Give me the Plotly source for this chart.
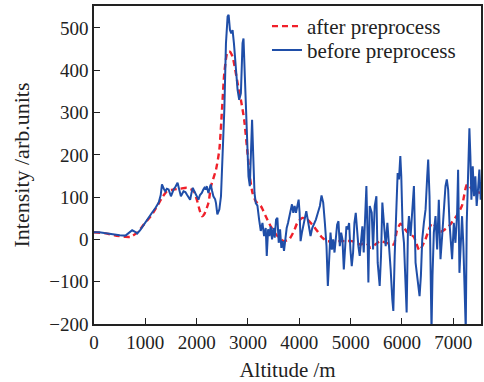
import plotly.graph_objects as go

# Altitude (m) and intensity (arb. units)
before_x = [0, 100, 200, 300, 400, 500, 614, 680, 743, 800, 840, 900, 969, 1050, 1130, 1200, 1260, 1300,
            1324, 1360, 1389, 1420, 1453, 1499, 1550, 1590, 1628, 1660, 1693, 1744, 1780, 1809, 1840, 1873,
            1900, 1925, 1950, 1970, 2000, 2035, 2065, 2100, 2130, 2151, 2175, 2196, 2229, 2250, 2274, 2300,
            2326, 2360, 2377, 2403, 2420, 2442, 2474, 2500, 2539, 2571, 2603, 2623, 2649, 2674, 2700, 2726,
            2765, 2797, 2829, 2862, 2894, 2913, 2939, 2971, 3010, 3036, 3060, 3080, 3101, 3127, 3152,
            3184, 3217, 3249, 3282, 3314, 3346, 3366, 3392, 3417, 3443, 3469, 3495, 3521, 3547, 3573, 3599,
            3625, 3650, 3676, 3702, 3728, 3754, 3780, 3806, 3831, 3857, 3883, 3909, 3935, 3961, 3987, 4006,
            4025, 4051, 4077, 4103, 4136, 4168, 4194, 4219, 4252, 4284, 4323, 4362, 4401, 4433, 4466, 4498,
            4530, 4556, 4582, 4608, 4634, 4660, 4686, 4711, 4737, 4763, 4789, 4815, 4841, 4867, 4893, 4918,
            4944, 4970, 4996, 5022, 5048, 5074, 5100, 5126, 5151, 5177, 5203, 5229, 5255, 5287, 5307,
            5327, 5346, 5372, 5411, 5437, 5469, 5502, 5527, 5566, 5592, 5618, 5651, 5683, 5716, 5748,
            5780, 5812, 5832, 5858, 5890, 5916, 5942, 5968, 5987, 6013, 6039, 6071, 6091, 6117, 6136, 6168,
            6201, 6233, 6265, 6304, 6343, 6369, 6395, 6427, 6460, 6492, 6511, 6537, 6563, 6576, 6595, 6621,
            6654, 6686, 6718, 6751, 6783, 6816, 6848, 6874, 6900, 6926, 6952, 6977, 7010, 7042, 7075, 7094,
            7120, 7146, 7171, 7197, 7223, 7243, 7262, 7288, 7314, 7333, 7353, 7379, 7404, 7430, 7456, 7482,
            7508, 7534, 7560]
before_y = [17, 17, 15, 13, 11, 10, 9, 15, 22, 18, 14, 22, 35, 48, 63, 75, 87, 105,
            130, 120, 114, 120, 118, 102, 118, 125, 134, 118, 102, 114, 112, 106, 100, 94,
            110, 122, 115, 110, 100, 94, 105, 110, 118, 122, 118, 126, 110, 120, 130, 115,
            102, 95, 86, 59, 65, 71, 102, 180, 307, 464, 527, 531, 495, 487, 495, 464,
            401, 354, 330, 346, 464, 475, 385, 267, 149, 126, 200, 283, 204, 110, 86,
            80, 47, 20, 39, 8, 27, -39, 24, 8, 31, 0, 27, 4, 47, 51, -8,
            24, -20, -4, -27, 4, 27, 39, 55, 71, 83, 63, 79, 63, 75, 94, 63,
            -4, 16, 35, 47, 67, 47, 27, 8, 27, 35, 47, 63, 79, 104, 87, 39,
            -16, -110, -39, 16, -24, 0, -31, 8, 35, 43, -16, 16, 0, -71, -16, 31,
            24, 39, -24, -63, -31, 39, 63, 8, -16, -39, -8, 31, -31, 102, 126,
            24, -102, 79, 63, -24, 79, 102, -55, -110, -39, 87, 24, -16, 39, -8,
            -71, -142, -169, -39, 94, 157, 142, 197, 149, 24, -8, -134, -173, 24, 55, 8,
            63, 126, -55, -102, -134, -86, 0, 39, 71, 149, 189, 102, -118, -215, -86, 16,
            55, -24, 94, -47, 8, 71, 126, 142, 118, 39, 0, -47, 39, -8, 63, 165,
            -79, -24, 55, -16, -118, -215, 39, 134, 263, 197, 94, 173, 102, 149, 79, 118,
            165, 94, 142]

after_x = [0, 200, 400, 614, 711, 840, 969, 1130, 1227, 1324, 1421, 1550, 1680, 1809, 1938, 2003, 2054,
           2100, 2145, 2229, 2280, 2377, 2442, 2494, 2539, 2603, 2649, 2700, 2752, 2797, 2862, 2926, 2991,
           3036, 3088, 3152, 3250, 3346, 3443, 3573, 3702, 3800, 3896, 3961, 4058, 4155, 4252, 4350, 4447,
           4544, 4767, 4896, 5026, 5190, 5300, 5390, 5500, 5580, 5700, 5840, 5900, 5970, 6100,
           6230, 6340, 6450, 6590, 6750, 6910, 7070, 7170, 7270, 7400, 7540]
after_y = [17, 15, 10, 6, 6, 16, 35, 59, 78, 98, 114, 118, 120, 122, 115, 94, 71,
           55, 59, 86, 126, 165, 212, 307, 393, 444, 444, 432, 401, 370, 330, 283, 204,
           149, 110, 90, 79, 55, 31, 8, -4, 0, 20, 39, 51, 47, 35, 20, 4,
           -4, -4, -4, -4, -12, -8, -20, -10, -4, -8, -12, 20, 37, 18,
           6, -26, -2, 39, 18, 31, 57, 80, 130, 115, 110]

x_ticks = [0, 1000, 2000, 3000, 4000, 5000, 6000, 7000]
y_ticks = [-200, -100, 0, 100, 200, 300, 400, 500]

FONT = "Liberation Serif"
INK = "#222222"

fig = go.Figure()
fig.add_trace(go.Scatter(x=after_x, y=after_y, mode="lines", name="after preprocess", legend="legend",
                         line=dict(color="#f0202a", width=2.4, dash="6px,4px", shape="spline", smoothing=0.6)))
fig.add_trace(go.Scatter(x=before_x, y=before_y, mode="lines", name="before preprocess", legend="legend2",
                         line=dict(color="#1f4ea8", width=2)))

axis_common = dict(showline=True, linecolor=INK, linewidth=1.5, mirror=True,
                   ticks="inside", ticklen=6, tickwidth=1.2, tickcolor=INK,
                   showgrid=False, zeroline=False,
                   tickfont=dict(family=FONT, size=19, color=INK))

fig.update_xaxes(range=[0, 7540], tickvals=x_ticks,
                 title=dict(text="Altitude /m", font=dict(family=FONT, size=21, color=INK), standoff=11),
                 **axis_common)
fig.update_yaxes(range=[-200, 552], tickvals=y_ticks,
                 title=dict(text="Intensity /arb.units", font=dict(family=FONT, size=22, color=INK), standoff=14),
                 **axis_common)

leg_common = dict(xanchor="left", yanchor="top", font=dict(family=FONT, size=21, color=INK),
                  bgcolor="rgba(0,0,0,0)", itemwidth=30)
fig.update_layout(
    width=484, height=382,
    margin=dict(l=94, r=1, t=6, b=58),
    plot_bgcolor="white", paper_bgcolor="white",
    showlegend=True,
    legend=dict(x=0.447, y=1.0, **leg_common),
    legend2=dict(x=0.447, y=0.925, **leg_common),
)

fig.write_html("out.html")
